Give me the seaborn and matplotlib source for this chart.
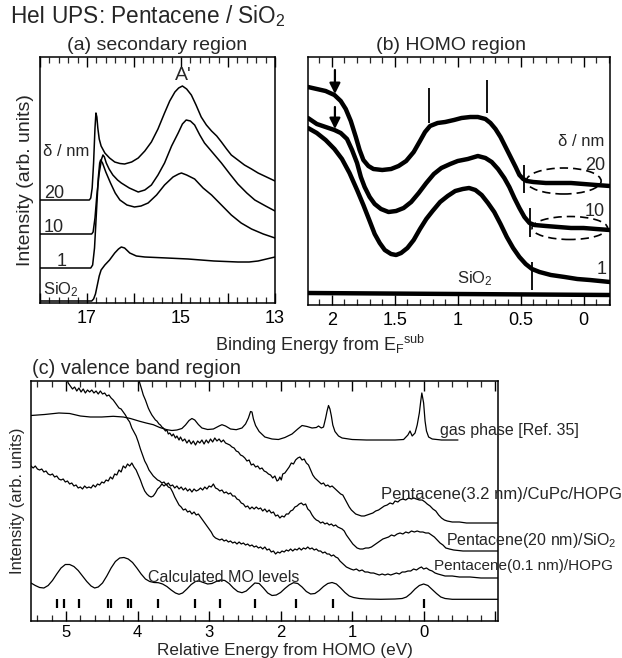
import matplotlib

matplotlib.use("Agg")

import matplotlib.pyplot as plt
import seaborn as sns
from matplotlib.patches import Ellipse
from matplotlib.ticker import MultipleLocator

# (a) secondary region: binding energy (eV) and intensity (arb.)
sec_e_20 = [18.0, 17.5, 16.95, 16.92, 16.89, 16.86, 16.83, 16.81, 16.79, 16.77, 16.74, 16.70,
            16.62, 16.52, 16.41, 16.30, 16.20, 16.05, 15.91, 15.77, 15.63, 15.49, 15.35, 15.24,
            15.13, 15.05, 14.97, 14.88, 14.78, 14.68, 14.57, 14.46, 14.35, 14.24, 14.14, 14.03,
            13.93, 13.79, 13.65, 13.50, 13.36, 13.18, 13.0]
sec_i_20 = [103, 103, 103, 105, 115, 140, 175, 190, 186, 175, 164, 157,
            150, 145, 141, 139.5, 139, 141, 145, 152, 161, 174, 190, 202,
            211, 215, 217, 214, 208, 198, 186, 178, 172, 167, 161, 154,
            148, 143, 138, 134, 130, 126, 122]
sec_e_10 = [18.0, 17.5, 16.90, 16.87, 16.83, 16.79, 16.74, 16.69, 16.66, 16.63, 16.59, 16.53,
            16.45, 16.35, 16.27, 16.10, 15.91, 15.77, 15.63, 15.49, 15.35, 15.20, 15.06, 14.97,
            14.89, 14.80, 14.71, 14.60, 14.50, 14.32, 14.14, 13.96, 13.79, 13.60, 13.43, 13.20, 13.0]
sec_i_10 = [69, 69, 69, 71, 85, 108, 130, 144, 148, 146, 140, 134,
            128, 123, 120, 115, 111, 113, 118, 128, 140, 157, 170, 179,
            183, 182, 178, 168, 160, 150, 140, 129, 119, 110, 103, 97, 92]
sec_e_1 = [18.0, 17.4, 16.92, 16.88, 16.84, 16.80, 16.76, 16.73, 16.71, 16.67, 16.60, 16.50,
           16.40, 16.30, 16.15, 15.99, 15.85, 15.70, 15.52, 15.35, 15.17, 15.05, 14.99, 14.88,
           14.71, 14.53, 14.35, 14.14, 13.93, 13.72, 13.50, 13.25, 13.0]
sec_i_1 = [35, 35, 35, 38, 55, 90, 125, 140, 143, 140, 131, 120,
           110, 103, 98, 96, 97, 100, 108, 118, 126, 129, 130, 128,
           124, 115, 108, 98, 88, 80, 74, 69, 65]
sec_e_sio2 = [18.0, 17.3, 16.90, 16.86, 16.82, 16.78, 16.74, 16.70, 16.62, 16.52, 16.41, 16.33,
              16.27, 16.20, 16.09, 15.95, 15.77, 15.3, 14.85, 14.3, 13.79, 13.55, 13.36, 13.18, 13.0]
sec_i_sio2 = [2, 2, 2, 4, 9, 18, 27, 33, 38, 43, 50, 54,
              56, 55, 50, 47, 46, 45, 44, 42, 41, 41, 42, 44, 46]

# (b) HOMO region
homo_e_20 = [2.19, 2.12, 2.05, 1.98, 1.93, 1.89, 1.85, 1.81, 1.78, 1.75, 1.71, 1.67, 1.60,
             1.53, 1.47, 1.41, 1.35, 1.30, 1.26, 1.22, 1.16, 1.10, 1.03, 0.97, 0.90, 0.84,
             0.78, 0.74, 0.70, 0.66, 0.62, 0.58, 0.54, 0.51, 0.48, 0.45, 0.40, 0.30, 0.20,
             0.10, 0.0, -0.10, -0.21]
homo_i_20 = [218, 216, 214, 210, 204, 196, 184, 168, 155, 145, 139, 136, 135,
             136, 139, 144, 153, 164, 173, 179, 182, 183, 185, 187, 188, 188,
             186, 182, 176, 168, 158, 148, 138, 130, 126, 124, 123, 122, 122,
             122, 121, 120, 119]
homo_e_10 = [2.19, 2.12, 2.05, 1.98, 1.93, 1.88, 1.84, 1.80, 1.77, 1.74, 1.70, 1.66, 1.61,
             1.55, 1.49, 1.43, 1.37, 1.31, 1.25, 1.19, 1.13, 1.06, 1.00, 0.92, 0.84, 0.78,
             0.73, 0.68, 0.63, 0.59, 0.55, 0.51, 0.47, 0.43, 0.39, 0.30, 0.20, 0.10, 0.0,
             -0.10, -0.21]
homo_i_10 = [187, 181, 178, 175, 172, 166, 155, 142, 128, 118, 108, 101, 96,
             93, 94, 97, 103, 112, 122, 131, 137, 141, 144, 146, 149, 147,
             143, 136, 127, 118, 107, 97, 88, 82, 80, 79, 78, 77, 77,
             76, 75]
homo_e_1 = [2.19, 2.12, 2.05, 1.98, 1.92, 1.86, 1.80, 1.75, 1.70, 1.66, 1.62, 1.58, 1.53,
            1.49, 1.45, 1.40, 1.35, 1.30, 1.25, 1.20, 1.14, 1.08, 1.02, 0.96, 0.91, 0.86,
            0.81, 0.76, 0.71, 0.66, 0.61, 0.56, 0.51, 0.46, 0.41, 0.35, 0.26, 0.15, 0.05,
            -0.05, -0.21]
homo_i_1 = [177, 172, 165, 156, 146, 132, 115, 100, 84, 71, 62, 55, 51,
            50, 52, 57, 65, 76, 86, 94, 103, 109, 114, 116, 117, 115,
            110, 102, 93, 81, 68, 57, 48, 41, 36, 33, 30, 28, 26,
            25, 23]
homo_e_sio2 = [2.19, 1.0, -0.21]
homo_i_sio2 = [12, 11, 10]

homo_arrow_e = [1.976, 1.976]
homo_arrow_top = [235, 198]
homo_arrow_tip = [211, 176]
homo_bar_e = [1.23, 0.765, 0.476, 0.429, 0.407]
homo_bar_lo = [182, 192, 112, 68, 15]
homo_bar_hi = [217, 225, 140, 97, 43]

# (c) valence band region: relative energy from HOMO (eV)
gas_e = [5.49, 5.30, 5.10, 4.95, 4.80, 4.66, 4.50, 4.34, 4.20, 4.10, 3.97, 3.88, 3.78, 3.69,
         3.59, 3.52, 3.45, 3.38, 3.33, 3.28, 3.24, 3.20, 3.15, 3.10, 3.02, 2.94, 2.86, 2.82,
         2.77, 2.70, 2.62, 2.54, 2.49, 2.45, 2.42, 2.40, 2.38, 2.35, 2.30, 2.22, 2.12, 2.03,
         1.94, 1.84, 1.76, 1.70, 1.63, 1.56, 1.50, 1.47, 1.43, 1.40, 1.37, 1.35, 1.33, 1.31,
         1.29, 1.27, 1.24, 1.19, 1.14, 1.0, 0.80, 0.60, 0.40, 0.28, 0.22, 0.19, 0.16, 0.12,
         0.09, 0.06, 0.04, 0.025, 0.0, -0.02, -0.04, -0.07, -0.12, -0.25, -0.48]
gas_i = [205.5, 206.5, 208, 207.5, 205, 204, 204, 204.7, 204, 202.5, 199.7, 198, 196.3, 193.5,
         191.3, 190.5, 191, 192.5, 196, 200.5, 202.5, 201, 196.5, 193, 191.5, 192, 195, 196.3,
         195, 192, 191.3, 193, 197, 203, 209.5, 209, 202, 195.5, 189.5, 184, 182, 181.5,
         183.5, 187, 192, 195.5, 194.5, 193, 193.5, 195, 193, 194, 203, 210, 215.5, 212,
         205, 196, 189.5, 185, 183, 181.5, 181, 181, 181, 181.5, 186, 190, 185, 188,
         196, 208, 220, 228, 218, 200, 190, 184, 182, 181, 181]

cupc_e = [4.01, 3.99, 3.96, 3.94, 3.92, 3.89, 3.87, 3.85, 3.83, 3.80, 3.78, 3.75, 3.73, 3.70,
          3.68, 3.66, 3.64, 3.61, 3.59, 3.57, 3.55, 3.52, 3.50, 3.47, 3.45, 3.42, 3.40, 3.37,
          3.34, 3.31, 3.28, 3.25, 3.22, 3.19, 3.16, 3.13, 3.10, 3.07, 3.04, 3.01, 2.98, 2.95,
          2.92, 2.89, 2.86, 2.83, 2.80, 2.77, 2.74, 2.71, 2.68, 2.65, 2.62, 2.59, 2.56, 2.53,
          2.50, 2.47, 2.44, 2.41, 2.38, 2.35, 2.32, 2.29, 2.26, 2.23, 2.20, 2.17, 2.14, 2.11,
          2.08, 2.05, 2.03, 2.01, 1.99, 1.97, 1.94, 1.91, 1.88, 1.85, 1.82, 1.79, 1.76, 1.73,
          1.70, 1.67, 1.64, 1.61, 1.58, 1.55, 1.52, 1.49, 1.46, 1.43, 1.40, 1.37, 1.34, 1.31,
          1.28, 1.25, 1.22, 1.19, 1.16, 1.13, 1.10, 1.07, 1.04, 1.01, 0.98, 0.95, 0.91, 0.87,
          0.83, 0.79, 0.75, 0.71, 0.67, 0.63, 0.59, 0.55, 0.51, 0.47, 0.43, 0.40, 0.36, 0.33,
          0.29, 0.25, 0.21, 0.17, 0.14, 0.10, 0.06, 0.02, -0.02, -0.05, -0.09, -0.13, -0.17,
          -0.21, -0.25, -0.29, -0.33, -0.40, -0.50, -0.60, -0.75, -0.90, -1.04]
cupc_i = [250, 243, 236, 231, 226, 221, 217, 213, 210, 206, 204, 201, 200, 197,
          196, 194, 193, 190, 191, 187, 188, 185, 187, 183, 185, 181, 184, 180,
          182, 178, 181, 177, 180, 176, 180, 178, 181, 177, 181, 178, 182, 179,
          183, 180, 182, 179, 181, 178, 177, 176, 174, 173, 170, 169, 166, 165,
          163, 160, 161, 156, 157, 154, 155, 152, 153, 150, 149, 147, 146, 143,
          145, 140, 141, 144, 141, 147, 148, 151, 154, 158, 157, 161, 163, 164,
          161, 162, 158, 156, 151, 146, 143, 141, 139, 137, 138, 135, 136, 134,
          135, 133, 131, 129, 127, 126, 122, 118, 114, 111, 109, 107, 106, 105,
          105, 106, 107, 108, 110, 111, 113, 115, 116, 118, 117, 120, 119, 121,
          122, 121, 123, 122, 123, 122, 121, 121, 119, 117, 115, 112, 110,
          106, 103, 101, 100, 99, 99, 98, 98, 98, 98]

sio2_e = [5.02, 4.99, 4.97, 4.94, 4.91, 4.88, 4.85, 4.82, 4.79, 4.76, 4.73, 4.70, 4.67, 4.64,
          4.61, 4.58, 4.55, 4.52, 4.49, 4.46, 4.43, 4.40, 4.37, 4.34, 4.31, 4.29, 4.26, 4.23,
          4.20, 4.17, 4.14, 4.11, 4.08, 4.05, 4.02, 3.99, 3.96, 3.93, 3.90, 3.87, 3.84, 3.81,
          3.78, 3.75, 3.72, 3.69, 3.66, 3.63, 3.60, 3.57, 3.54, 3.51, 3.48, 3.45, 3.42, 3.39,
          3.36, 3.33, 3.30, 3.27, 3.24, 3.21, 3.18, 3.15, 3.12, 3.09, 3.06, 3.03, 3.00, 2.97,
          2.94, 2.91, 2.88, 2.85, 2.82, 2.79, 2.76, 2.73, 2.70, 2.67, 2.64, 2.61, 2.58, 2.55,
          2.52, 2.49, 2.46, 2.43, 2.40, 2.37, 2.34, 2.31, 2.28, 2.25, 2.22, 2.19, 2.16, 2.13,
          2.10, 2.07, 2.04, 2.01, 1.98, 1.95, 1.92, 1.89, 1.86, 1.83, 1.80, 1.77, 1.74, 1.71,
          1.68, 1.65, 1.62, 1.59, 1.56, 1.53, 1.50, 1.47, 1.44, 1.41, 1.38, 1.35, 1.32, 1.29,
          1.26, 1.23, 1.20, 1.17, 1.14, 1.11, 1.08, 1.05, 1.02, 0.99, 0.96, 0.93, 0.89, 0.85,
          0.81, 0.77, 0.73, 0.69, 0.65, 0.61, 0.57, 0.53, 0.49, 0.45, 0.41, 0.37, 0.33, 0.29,
          0.25, 0.21, 0.17, 0.13, 0.09, 0.05, 0.01, -0.03, -0.07, -0.11, -0.15, -0.19, -0.23,
          -0.27, -0.31, -0.36, -0.42, -0.55, -0.70, -0.85, -1.04]
sio2_i = [250, 243, 238, 235, 232, 234, 230, 233, 229, 232, 228, 231, 229, 231,
          228, 230, 227, 230, 227, 228, 225, 226, 223, 221, 218, 216, 213, 212,
          209, 206, 202, 199, 193, 189, 185, 179, 172, 166, 160, 156, 151, 148,
          145, 143, 141, 140, 138, 139, 136, 138, 135, 136, 133, 135, 132, 134,
          131, 133, 130, 132, 129, 132, 130, 131, 133, 131, 134, 132, 135, 134,
          137, 133, 132, 130, 131, 128, 129, 127, 128, 125, 125, 122, 121, 118,
          117, 114, 115, 112, 114, 112, 114, 112, 113, 110, 112, 109, 111, 108,
          109, 105, 106, 103, 105, 104, 107, 107, 110, 111, 114, 115, 117, 118,
          116, 117, 112, 110, 106, 103, 101, 100, 98, 99, 97, 98, 96, 97,
          95, 96, 94, 93, 92, 90, 86, 83, 80, 77, 75, 73, 72, 72,
          73, 73, 74, 76, 78, 80, 82, 83, 84, 86, 85, 87, 88, 87,
          89, 88, 90, 89, 90, 89, 89, 88, 88, 86, 84, 81, 78,
          76, 73, 72, 71, 70, 70, 70, 70]

hopg_e = [5.49, 5.46, 5.43, 5.40, 5.37, 5.34, 5.31, 5.28, 5.25, 5.22, 5.19, 5.16, 5.13, 5.10,
          5.07, 5.04, 5.01, 4.98, 4.95, 4.92, 4.89, 4.86, 4.83, 4.80, 4.77, 4.74, 4.71, 4.68,
          4.65, 4.62, 4.59, 4.56, 4.53, 4.50, 4.47, 4.44, 4.41, 4.38, 4.35, 4.32, 4.29, 4.26,
          4.23, 4.20, 4.17, 4.14, 4.11, 4.08, 4.05, 4.02, 3.99, 3.96, 3.93, 3.90, 3.87, 3.84,
          3.81, 3.78, 3.75, 3.72, 3.69, 3.66, 3.63, 3.60, 3.57, 3.54, 3.51, 3.48, 3.45, 3.42,
          3.39, 3.36, 3.33, 3.30, 3.27, 3.24, 3.21, 3.18, 3.15, 3.12, 3.09, 3.06, 3.03, 3.00,
          2.97, 2.94, 2.91, 2.88, 2.85, 2.82, 2.79, 2.76, 2.73, 2.70, 2.67, 2.64, 2.61, 2.58,
          2.55, 2.52, 2.49, 2.46, 2.43, 2.40, 2.37, 2.34, 2.31, 2.28, 2.25, 2.22, 2.19, 2.16,
          2.13, 2.10, 2.07, 2.04, 2.01, 1.98, 1.95, 1.92, 1.89, 1.86, 1.83, 1.80, 1.77, 1.74,
          1.71, 1.68, 1.65, 1.62, 1.59, 1.56, 1.53, 1.50, 1.47, 1.44, 1.41, 1.38, 1.35, 1.32,
          1.29, 1.26, 1.23, 1.20, 1.17, 1.14, 1.11, 1.08, 1.05, 1.02, 0.98, 0.94, 0.90, 0.86,
          0.82, 0.78, 0.74, 0.70, 0.66, 0.62, 0.58, 0.54, 0.50, 0.46, 0.42, 0.38, 0.34, 0.30,
          0.26, 0.22, 0.18, 0.14, 0.10, 0.06, 0.03, 0.00, -0.04, -0.08, -0.12, -0.16, -0.20,
          -0.25, -0.30, -0.40, -0.50, -0.65, -0.80, -1.04]
hopg_i = [155, 153, 155, 152, 151, 152, 149, 150, 147, 146, 147, 144, 145, 142,
          141, 142, 139, 140, 137, 138, 135, 136, 133, 134, 132, 135, 133, 134,
          133, 136, 134, 137, 136, 139, 138, 141, 140, 144, 142, 147, 146, 151,
          149, 155, 153, 157, 155, 158, 154, 151, 146, 141, 135, 130, 127, 125,
          124, 125, 128, 132, 134, 137, 135, 137, 134, 133, 129, 124, 120, 116,
          114, 111, 112, 109, 110, 107, 109, 106, 107, 104, 101, 98, 95, 92,
          89, 85, 83, 82, 81, 82, 80, 81, 79, 80, 78, 79, 77, 79,
          77, 78, 76, 77, 75, 76, 74, 75, 73, 74, 72, 74, 71, 72,
          69, 70, 67, 69, 68, 70, 69, 71, 70, 72, 70, 72, 71, 73,
          71, 73, 72, 74, 72, 73, 71, 72, 70, 70, 68, 69, 67, 67,
          65, 66, 64, 63, 60, 58, 56, 54, 53, 52, 51, 52, 50, 51,
          49, 49, 48, 48, 47, 46, 47, 46, 47, 46, 47, 48, 47, 49,
          49, 50, 50, 52, 51, 53, 54, 52, 53, 51, 50, 48, 47,
          46, 45, 45, 44, 44, 43, 43]

mo_curve_e = [5.49, 5.43, 5.37, 5.31, 5.25, 5.19, 5.13, 5.07, 5.01, 4.95, 4.89, 4.83, 4.77,
              4.71, 4.65, 4.60, 4.55, 4.49, 4.43, 4.37, 4.31, 4.25, 4.19, 4.13, 4.07, 4.01,
              3.95, 3.89, 3.83, 3.77, 3.71, 3.65, 3.59, 3.53, 3.47, 3.42, 3.37, 3.31, 3.25,
              3.19, 3.14, 3.08, 3.02, 2.96, 2.90, 2.84, 2.78, 2.72, 2.66, 2.60, 2.54, 2.48,
              2.42, 2.36, 2.30, 2.24, 2.18, 2.12, 2.06, 2.00, 1.94, 1.88, 1.82, 1.76, 1.70,
              1.64, 1.58, 1.52, 1.46, 1.40, 1.34, 1.28, 1.22, 1.16, 1.10, 1.04, 0.98, 0.90,
              0.80, 0.60, 0.40, 0.30, 0.24, 0.18, 0.12, 0.06, 0.0, -0.06, -0.12, -0.18, -0.24,
              -0.30, -0.40, -0.60, -1.04]
mo_curve_i = [38, 35.5, 33.5, 33, 35.5, 40.5, 47, 53, 56.5, 56.5, 54.5, 50.5, 45,
              39.5, 35, 33, 34, 38, 45, 53, 59.5, 63, 63.5, 62, 58.5, 53,
              47, 42, 39.5, 38.5, 38.3, 37, 34.5, 31, 28, 26.7, 28, 32, 36.5,
              39.5, 40, 38.5, 37, 37.5, 39.5, 41, 40.5, 37.5, 33, 29.5, 28.3, 30,
              34, 38, 37.5, 33, 28, 25.5, 26, 28.5, 32.5, 36, 38.3, 37.5, 34,
              29.5, 27, 27.5, 30.5, 34.5, 37.5, 38.5, 37, 33, 28.5, 25, 23.5, 22.5,
              22, 21.7, 22, 22.5, 24, 27.5, 32, 35.5, 37, 35.5, 31.5, 27.5, 24,
              22.5, 21.7, 21.7, 21.7]
mo_levels = [5.12, 5.03, 4.82, 4.41, 4.37, 4.14, 4.09, 3.72, 3.19, 2.85, 2.36, 1.78, 1.27, 0.0]

sns.set_theme(style="ticks")
plt.rcParams["font.family"] = ["Liberation Sans", "DejaVu Sans"]
plt.rcParams["mathtext.fontset"] = "custom"
plt.rcParams["mathtext.rm"] = "Liberation Sans"
plt.rcParams["mathtext.it"] = "Liberation Sans:italic"
plt.rcParams["xtick.direction"] = "in"
plt.rcParams["xtick.top"] = True
plt.rcParams["axes.linewidth"] = 1.1
plt.rcParams["axes.edgecolor"] = "black"

fig = plt.figure(figsize=(6.22, 6.58), dpi=100)
ax_a = fig.add_axes([40 / 622, 1 - 303 / 658, 235 / 622, 246 / 658])
ax_b = fig.add_axes([308 / 622, 1 - 305 / 658, 302 / 622, 248 / 658])
ax_c = fig.add_axes([31 / 622, 1 - 621 / 658, 467 / 622, 240 / 658])


def draw(ax, x, y, lw):
    sns.lineplot(x=x, y=y, ax=ax, color="black", lw=lw, sort=False,
                 estimator=None, legend=False)


def style_ticks(ax, major, labels, minor, size, pad=5):
    ax.set_xticks(major)
    ax.set_xticklabels(labels)
    ax.xaxis.set_minor_locator(MultipleLocator(minor))
    ax.tick_params(axis="x", which="major", length=7, width=1.0, labelsize=size,
                   pad=pad, colors="black")
    ax.tick_params(axis="x", which="minor", length=4, width=0.9, top=True)
    ax.set_yticks([])
    ax.set_xlabel("")
    ax.set_ylabel("")


# (a)
for x, y in [(sec_e_20, sec_i_20), (sec_e_10, sec_i_10), (sec_e_1, sec_i_1),
             (sec_e_sio2, sec_i_sio2)]:
    draw(ax_a, x, y, 1.1)
ax_a.set_xlim(18, 13)
ax_a.set_ylim(0, 246)
style_ticks(ax_a, [18, 17, 16, 15, 14, 13], ["", "17", "", "15", "", "13"], 0.2, 13)
ax_a.set_ylabel("Intensity (arb. units)", fontsize=14, labelpad=4)
ax_a.text(17.94, 151, "δ / nm", fontsize=12, va="center")
ax_a.text(17.92, 101, "20", fontsize=13, va="bottom")
ax_a.text(17.92, 67, "10", fontsize=13, va="bottom")
ax_a.text(17.64, 33, "1", fontsize=13, va="bottom")
ax_a.text(17.94, 4, "SiO$_2$", fontsize=12, va="bottom")
ax_a.text(14.96, 228, "A'", fontsize=14, ha="center", va="center")

# (b)
for x, y in [(homo_e_20, homo_i_20), (homo_e_10, homo_i_10), (homo_e_1, homo_i_1),
             (homo_e_sio2, homo_i_sio2)]:
    draw(ax_b, x, y, 3.2)
ax_b.set_xlim(2.19, -0.21)
ax_b.set_ylim(0, 248)
style_ticks(ax_b, [2, 1.5, 1, 0.5, 0], ["2", "1.5", "1", "0.5", "0"], 0.1, 13)
ax_b.vlines(homo_bar_e, homo_bar_lo, homo_bar_hi, color="black", lw=1.3)
for e, top, tip in zip(homo_arrow_e, homo_arrow_top, homo_arrow_tip):
    ax_b.annotate("", xy=(e, tip), xytext=(e, top),
                  arrowprops=dict(arrowstyle="-|>", color="black", lw=1.6,
                                  mutation_scale=16, shrinkA=0, shrinkB=0))
ax_b.add_patch(Ellipse((0.158, 124), 0.595, 26, fill=False, ls=(0, (5, 3)), lw=1.2,
                       color="black"))
ax_b.add_patch(Ellipse((0.11, 77), 0.6, 23, fill=False, ls=(0, (5, 3)), lw=1.2,
                       color="black"))
ax_b.text(0.02, 164, "δ / nm", fontsize=12, ha="center", va="center")
ax_b.text(-0.09, 139, "20", fontsize=13, ha="center", va="center")
ax_b.text(-0.09, 94, "10", fontsize=13, ha="center", va="center")
ax_b.text(-0.14, 35, "1", fontsize=13, ha="center", va="center")
ax_b.text(0.86, 26, "SiO$_2$", fontsize=12, ha="center", va="center")

# (c)
for x, y in [(gas_e, gas_i), (cupc_e, cupc_i), (sio2_e, sio2_i), (hopg_e, hopg_i),
             (mo_curve_e, mo_curve_i)]:
    draw(ax_c, x, y, 0.9)
ax_c.vlines(mo_levels, 13, 22, color="black", lw=1.6)
ax_c.set_xlim(5.49, -1.04)
ax_c.set_ylim(0, 240)
style_ticks(ax_c, [5, 4, 3, 2, 1, 0, -1], ["5", "4", "3", "2", "1", "0", ""], 0.2, 12,
            pad=3)
ax_c.set_ylabel("Intensity (arb. units)", fontsize=12, labelpad=4)
ax_c.text(-0.23, 191, "gas phase [Ref. 35]", fontsize=11.5, va="center", clip_on=False)
ax_c.text(0.60, 127, "Pentacene(3.2 nm)/CuPc/HOPG", fontsize=12, va="center", clip_on=False)
ax_c.text(-0.31, 80, "Pentacene(20 nm)/SiO$_2$", fontsize=11.5, va="center", clip_on=False)
ax_c.text(-0.15, 55, "Pentacene(0.1 nm)/HOPG", fontsize=11, va="center", clip_on=False)
ax_c.text(3.85, 44, "Calculated MO levels", fontsize=11.5, va="center")

fig.text(10 / 622, 1 - 23 / 658, "HeI UPS: Pentacene / SiO$_2$", fontsize=16.3, va="baseline")
fig.text(157 / 622, 1 - 50 / 658, "(a) secondary region", fontsize=14, ha="center",
         va="baseline")
fig.text(451 / 622, 1 - 50 / 658, "(b) HOMO region", fontsize=14, ha="center", va="baseline")
fig.text(320 / 622, 1 - 351 / 658, "Binding Energy from E$_\\mathrm{F}$$^\\mathrm{sub}$",
         fontsize=13, ha="center", va="baseline")
fig.text(32 / 622, 1 - 374 / 658, "(c) valence band region", fontsize=14.3, va="baseline")
fig.text(285 / 622, 1 - 655.5 / 658, "Relative Energy from HOMO (eV)", fontsize=12.3,
         ha="center", va="baseline")

fig.savefig("out.png", dpi=100, facecolor="white")
